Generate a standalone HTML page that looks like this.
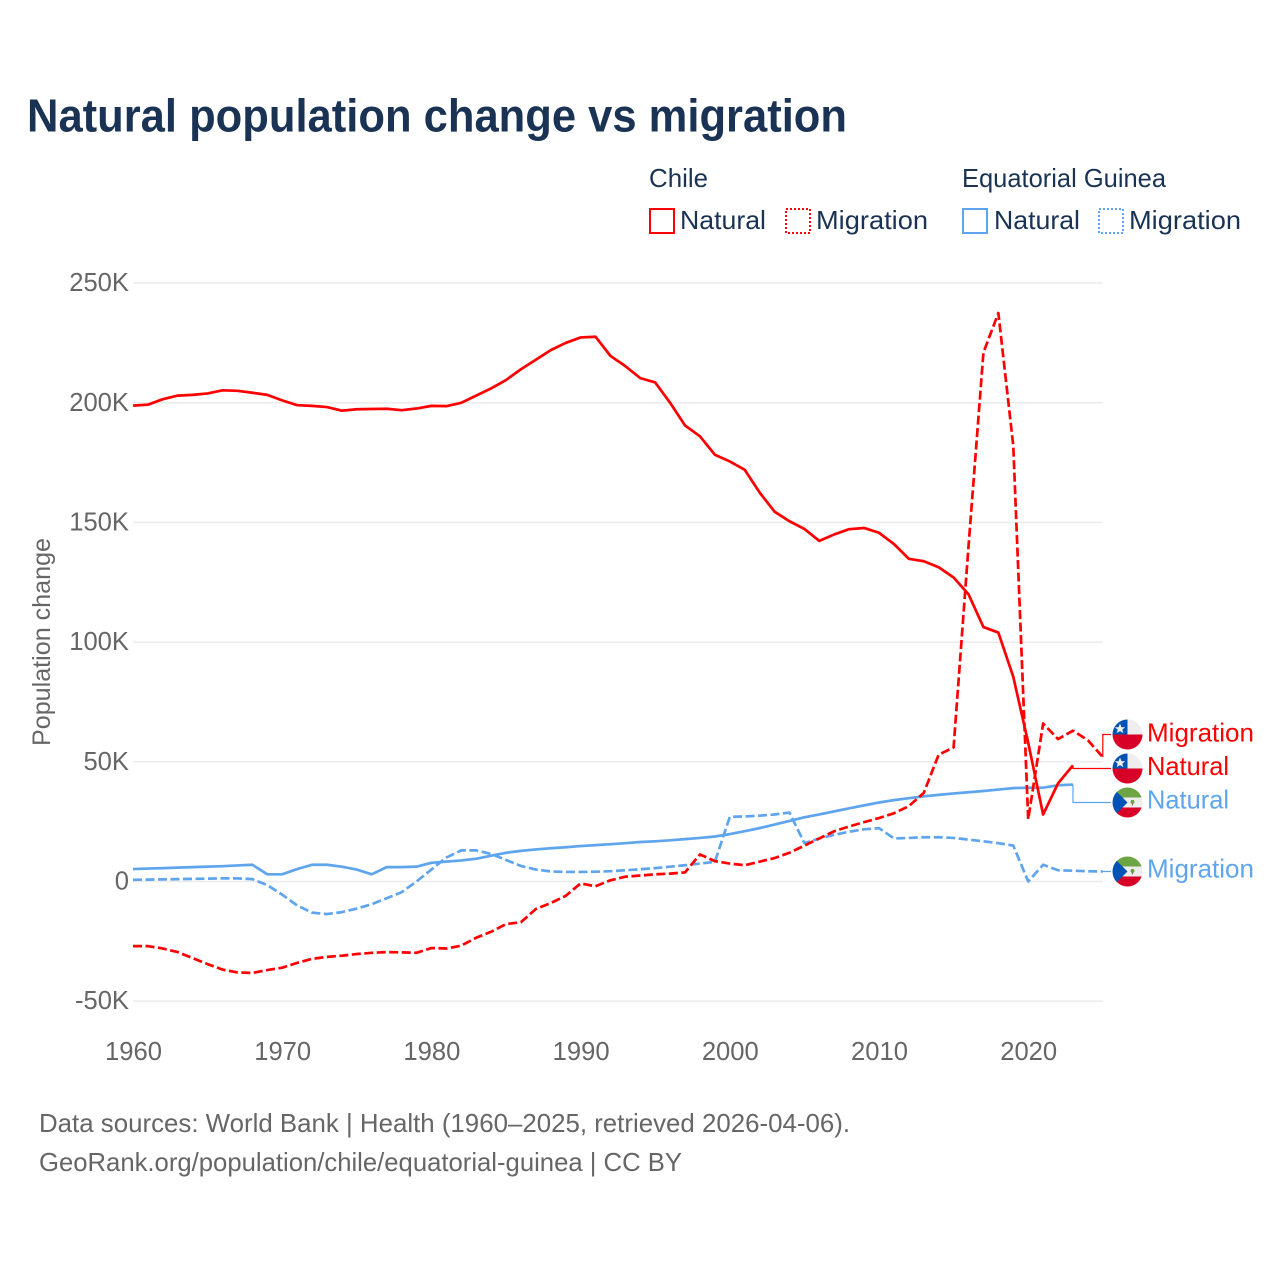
<!DOCTYPE html>
<html lang="en">
<head>
<meta charset="utf-8">
<title>Natural population change vs migration</title>
<style>
html,body{margin:0;padding:0;background:#fff;}
svg{display:block;font-family:"Liberation Sans",sans-serif;}
</style>
</head>
<body>
<svg id="chart" width="1280" height="1280" viewBox="0 0 1280 1280" xmlns="http://www.w3.org/2000/svg">
<defs>
<clipPath id="flag-clip"><circle cx="0" cy="0" r="15"/></clipPath>
<g id="flag-chile">
<g clip-path="url(#flag-clip)">
<rect x="-15" y="-15" width="30" height="15" fill="#eeeeee"/>
<rect x="-15" y="-15" width="15" height="15" fill="#0052b4"/>
<rect x="-15" y="0" width="30" height="15" fill="#d80027"/>
<polygon points="-7.5,-11 -6,-7.2 -2.3,-7.2 -5.2,-4.9 -4.2,-1.4 -7.5,-3.4 -10.8,-1.4 -9.8,-4.9 -12.7,-7.2 -9,-7.2" fill="#f0f0f0"/>
</g>
</g>
<g id="flag-eq-guinea">
<g clip-path="url(#flag-clip)">
<rect x="-15" y="-15" width="30" height="10" fill="#6da544"/>
<rect x="-15" y="-5" width="30" height="10" fill="#eeeeee"/>
<rect x="-15" y="5" width="30" height="10" fill="#d80027"/>
<polygon points="-15,-15 0,0 -15,15" fill="#0052b4"/>
<circle cx="5" cy="-0.6" r="2" fill="#6da544"/>
<rect x="4.4" y="0" width="1.2" height="3" fill="#8a7a5a"/>
</g>
</g>
</defs>

<text x="27" y="131.5" font-size="46" font-weight="700" fill="#1a3354" textLength="820" lengthAdjust="spacingAndGlyphs">Natural population change vs migration</text>

<g font-size="26" fill="#1a3354">
<text x="649" y="187" textLength="59" lengthAdjust="spacingAndGlyphs">Chile</text>
<text x="962" y="187" textLength="204" lengthAdjust="spacingAndGlyphs">Equatorial Guinea</text>
<g>
<rect x="650" y="209" width="24" height="24" fill="none" stroke="#ff0000" stroke-width="2"/>
<text x="680" y="229" textLength="86" lengthAdjust="spacingAndGlyphs">Natural</text>
</g>
<g>
<rect x="786" y="209" width="24" height="24" fill="none" stroke="#ff0000" stroke-width="2" stroke-dasharray="2 2"/>
<text x="816" y="229" textLength="112" lengthAdjust="spacingAndGlyphs">Migration</text>
</g>
<g>
<rect x="963" y="209" width="24" height="24" fill="none" stroke="#5fa5ee" stroke-width="2"/>
<text x="994" y="229" textLength="86" lengthAdjust="spacingAndGlyphs">Natural</text>
</g>
<g>
<rect x="1099" y="209" width="24" height="24" fill="none" stroke="#5fa5ee" stroke-width="2" stroke-dasharray="2 2"/>
<text x="1129" y="229" textLength="112" lengthAdjust="spacingAndGlyphs">Migration</text>
</g>
</g>

<text transform="translate(50,642) rotate(-90)" text-anchor="middle" font-size="25" fill="#666666" textLength="208" lengthAdjust="spacingAndGlyphs">Population change</text>

<g id="grid"></g>
<g id="y-ticks"></g>
<g id="x-ticks"></g>
<g id="series"></g>
<g id="end-labels"></g>

<text x="39" y="1132" font-size="26" fill="#666666" textLength="811" lengthAdjust="spacingAndGlyphs">Data sources: World Bank | Health (1960–2025, retrieved 2026-04-06).</text>
<text x="39" y="1171" font-size="26" fill="#666666" textLength="643" lengthAdjust="spacingAndGlyphs">GeoRank.org/population/chile/equatorial-guinea | CC BY</text>
</svg>

<script>
const startYear = 1960;
const yTickValues = [-50, 0, 50, 100, 150, 200, 250];
const yTickLabels = ["-50K", "0", "50K", "100K", "150K", "200K", "250K"];
const xTickValues = [1960, 1970, 1980, 1990, 2000, 2010, 2020];
const xTickLabels = ["1960", "1970", "1980", "1990", "2000", "2010", "2020"];

const chileNatural = [198.8,199.2,201.5,203,203.3,203.9,205.2,205,204.2,203.3,201,199,198.7,198.2,196.7,197.3,197.4,197.5,196.9,197.6,198.7,198.6,200,203,206,209.5,214,218,222,225,227.3,227.6,219.6,215.3,210.3,208.5,200,190.5,186,178.3,175.5,172,162.5,154.5,150.5,147.3,142.3,145,147.2,147.7,145.7,141,134.8,133.8,131.3,127,120,106.3,104,85.5,58,28,41,48.5];
const chileMigration = [-27,-27,-28,-29.5,-32,-34.5,-36.8,-38,-38.2,-37,-36,-34,-32.3,-31.5,-31,-30.3,-29.8,-29.5,-29.6,-29.8,-27.8,-28,-26.8,-23.5,-21,-17.8,-17,-11.5,-9,-6,-0.8,-2,0.5,2,2.5,3,3.3,3.8,11.3,8.5,7.5,6.8,8.3,9.8,12,15,18,21,23,24.8,26.5,28.5,31.5,37,53,56,140,221,237.5,182,26,66,59.5,63,59,52];
const guineaNatural = [5.2,5.4,5.6,5.8,6,6.2,6.4,6.7,7,3,3,5.2,7,7,6.2,5,3,6,6,6.2,7.8,8.3,8.8,9.5,10.8,12,12.8,13.4,13.9,14.3,14.8,15.2,15.6,16,16.5,16.8,17.2,17.7,18.2,18.8,19.8,21,22.3,23.8,25.3,26.8,28,29.3,30.6,31.8,33,34,34.8,35.6,36.2,36.8,37.3,37.8,38.4,39,39.2,39.2,40.2,40.5];
const guineaMigration = [0.7,0.8,0.9,1,1.1,1.2,1.3,1.3,1,-1.5,-5.5,-10,-13,-13.6,-12.8,-11.3,-9.5,-7,-4.5,0,5,10,13,13,11.5,9,6.5,5,4.2,4,4,4.1,4.3,4.7,5.1,5.6,6.2,6.8,7.5,8.2,27,27.2,27.5,28,28.8,16,18,19.5,20.8,21.8,22.3,18,18.2,18.5,18.5,18.2,17.5,16.8,16,15,0,7,4.7,4.5,4.3,4.2];

const RED = "#ff0000";
const BLUE = "#5fa5ee";
const NS = "http://www.w3.org/2000/svg";
const xLeft = 133, xPerYear = 14.92, xRight = 1102.6;
const yZero = 881.5, yPerK = 2.3936;
function xScale(year){ return xLeft + (year - startYear) * xPerYear; }
function yScale(k){ return yZero - k * yPerK; }
function make(tag, attrs, parent, text){
  const el = document.createElementNS(NS, tag);
  for (const key in attrs) el.setAttribute(key, attrs[key]);
  if (text !== undefined) el.textContent = text;
  parent.appendChild(el);
  return el;
}
const gridG = document.getElementById("grid");
const yG = document.getElementById("y-ticks");
const xG = document.getElementById("x-ticks");
const seriesG = document.getElementById("series");
const endG = document.getElementById("end-labels");

yTickValues.forEach(function(v, i){
  const line = make("line", {x1:xLeft, x2:xRight, y1:yScale(v), y2:yScale(v), stroke:"#ececec", "stroke-width":1.6}, gridG);
  
  
  const label = make("text", {x:129, y:yScale(v)+8, "text-anchor":"end", "font-size":25.6, fill:"#666666"}, yG, yTickLabels[i]);
  
  
});
xTickValues.forEach(function(v, i){
  const label = make("text", {x:xScale(v)+0.5, y:1060, "text-anchor":"middle", "font-size":25.6, fill:"#666666"}, xG, xTickLabels[i]);
  
  
});

function drawSeries(values, color, dashed, name){
  const pts = values.map(function(v, i){ return xScale(startYear + i).toFixed(2) + "," + yScale(v).toFixed(2); }).join(" ");
  const attrs = {points:pts, fill:"none", stroke:color, "stroke-width":2.7, "stroke-linejoin":"round"};
  if (dashed) attrs["stroke-dasharray"] = "9 3.5";
  const line = make("polyline", attrs, seriesG);
  
  
}
drawSeries(guineaMigration, BLUE, true, "line-eq-guinea-migration");
drawSeries(guineaNatural, BLUE, false, "line-eq-guinea-natural");
drawSeries(chileMigration, RED, true, "line-chile-migration");
drawSeries(chileNatural, RED, false, "line-chile-natural");

function drawEnd(values, flagY, baseline, color, flag, text, name){
  const last = values.length - 1;
  const ex = xScale(startYear + last), ey = yScale(values[last]);
  const connector = make("path", {d:"M" + ex + " " + ey + "V" + flagY + "H1111", fill:"none", stroke:color, "stroke-width":1.2}, endG);
  
  
  const use = make("use", {href:"#" + flag, transform:"translate(1127.5," + flagY + ")"}, endG);
  
  
  const width = text === "Migration" ? 107 : 82;
  const label = make("text", {x:1147, y:baseline, "font-size":26, fill:color, textLength:width, lengthAdjust:"spacingAndGlyphs"}, endG, text);
  
  
}
drawEnd(chileMigration, 734.5, 741.5, RED, "flag-chile", "Migration", "end-chile-migration");
drawEnd(chileNatural, 768.5, 775, RED, "flag-chile", "Natural", "end-chile-natural");
drawEnd(guineaNatural, 802.5, 808.5, BLUE, "flag-eq-guinea", "Natural", "end-eq-guinea-natural");
drawEnd(guineaMigration, 871.5, 877.5, BLUE, "flag-eq-guinea", "Migration", "end-eq-guinea-migration");
</script>
</body>
</html>
